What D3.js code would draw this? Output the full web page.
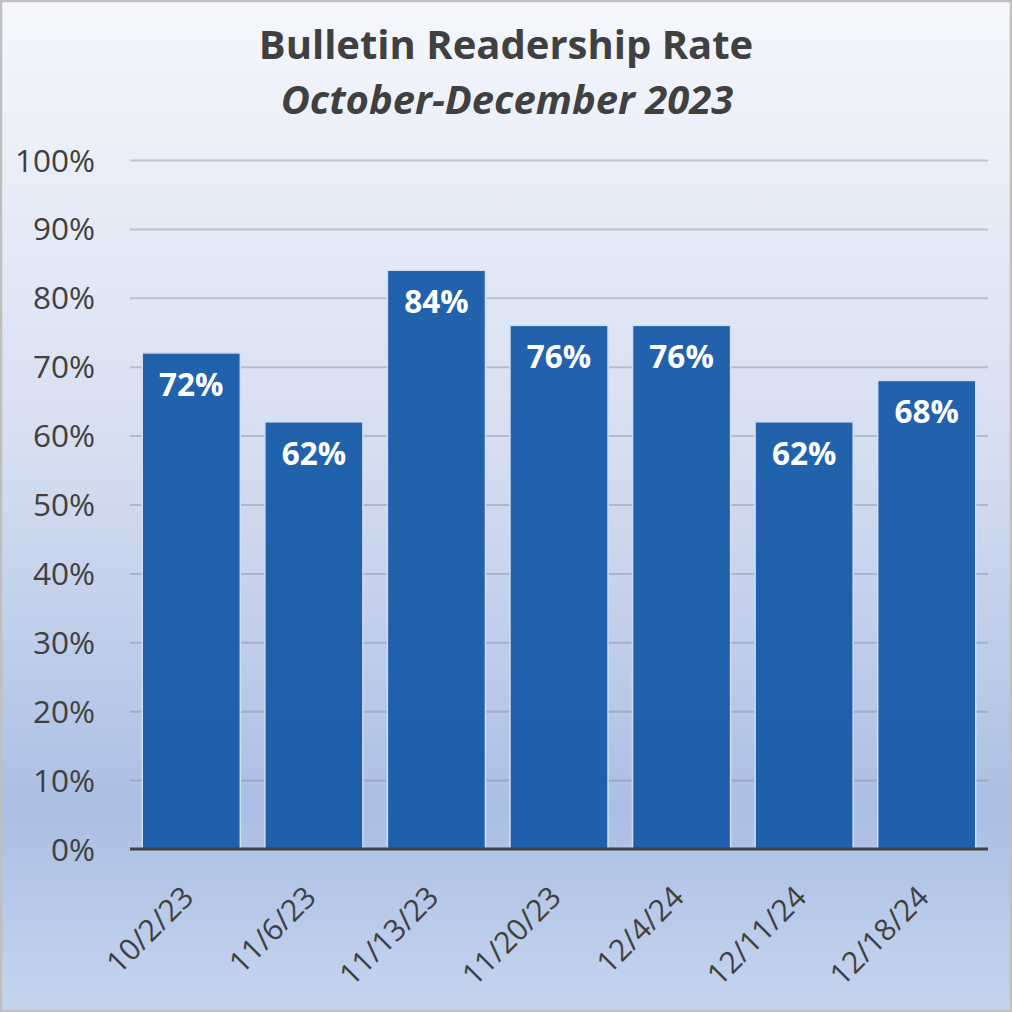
<!DOCTYPE html>
<html>
<head>
<meta charset="utf-8">
<script src="https://d3js.org/d3.v7.min.js"></script>
<style>
  body { margin: 0; background: #fff; }
  svg { display: block; font-family: "Open Sans", "Noto Sans", sans-serif; }
  .grid line { stroke: #7a8294; stroke-opacity: 0.38; stroke-width: 2px; }
  .grid path, .grid text { display: none; }
  .yaxis path, .yaxis line { display: none; }
  .yaxis text { font-family: "Open Sans", "Noto Sans", sans-serif; font-size: 31.5px; fill: #404040; }
  .xaxis text { font-family: "Open Sans", "Noto Sans", sans-serif; font-size: 30px; fill: #404040; }
</style>
</head>
<body>
<script>
  // data
  var dates = ["10/2/23", "11/6/23", "11/13/23", "11/20/23", "12/4/24", "12/11/24", "12/18/24"];
  var rates = [72, 62, 84, 76, 76, 62, 68];
  var yTicks = [0, 10, 20, 30, 40, 50, 60, 70, 80, 90, 100];

  var W = 1012, H = 1012;
  var margin = {top: 160, right: 24, bottom: 163, left: 130},
      width = W - margin.left - margin.right,
      height = H - margin.top - margin.bottom;

  var svg = d3.select("body").append("svg")
      .attr("width", W)
      .attr("height", H);

  var grad = svg.append("defs").append("linearGradient")
      .attr("id", "bg")
      .attr("x1", 0).attr("y1", 0).attr("x2", 0).attr("y2", 1);
  grad.append("stop").attr("offset", "0").attr("stop-color", "#f5f7fc");
  grad.append("stop").attr("offset", "0.45").attr("stop-color", "#d5def1");
  grad.append("stop").attr("offset", "0.8").attr("stop-color", "#abbfe4");
  grad.append("stop").attr("offset", "1").attr("stop-color", "#c6d4ee");

  svg.append("rect")
      .attr("x", 1).attr("y", 1)
      .attr("width", W - 2).attr("height", H - 2)
      .attr("fill", "url(#bg)")
      .attr("stroke", "#bfbfbf")
      .attr("stroke-width", 2.5);

  // titles
  svg.append("text")
      .attr("x", W / 2).attr("y", 59)
      .attr("text-anchor", "middle")
      .style("font-size", "40px").style("font-weight", "bold")
      .style("fill", "#404040")
      .text("Bulletin Readership Rate");

  svg.append("text")
      .attr("x", W / 2 + 1).attr("y", 114)
      .attr("text-anchor", "middle")
      .style("font-size", "40px").style("font-weight", "bold")
      .style("font-style", "italic")
      .style("fill", "#404040")
      .text("October-December 2023");

  var g = svg.append("g")
      .attr("transform", "translate(" + margin.left + "," + margin.top + ")");

  var x = d3.scaleBand()
      .domain(dates)
      .range([0, width])
      .paddingInner(0.2)
      .paddingOuter(0.1);

  var y = d3.scaleLinear()
      .domain([0, 100])
      .range([height, 0]);

  g.append("g")
      .attr("class", "grid")
      .call(d3.axisLeft(y).tickValues(yTicks.slice(1)).tickSize(-width));

  g.append("g")
      .attr("class", "yaxis")
      .call(d3.axisLeft(y).tickValues(yTicks).tickSize(0).tickPadding(35)
        .tickFormat(function(d) { return d + "%"; }));
  g.selectAll(".yaxis text").attr("dy", "0.35em");

  g.selectAll(".bar")
      .data(rates)
      .enter().append("rect")
      .attr("class", "bar")
      .attr("x", function(d, i) { return x(dates[i]); })
      .attr("y", function(d) { return y(d); })
      .attr("width", x.bandwidth())
      .attr("height", function(d) { return height - y(d); })
      .attr("fill", "#175ba9")
      .attr("fill-opacity", 0.95)
      .attr("stroke", "#d3def0")
      .attr("stroke-width", 1.5);

  g.selectAll(".val")
      .data(rates)
      .enter().append("text")
      .attr("class", "val")
      .attr("x", function(d, i) { return x(dates[i]) + x.bandwidth() / 2; })
      .attr("y", function(d) { return y(d) + 43; })
      .attr("text-anchor", "middle")
      .style("font-size", "31.5px").style("font-weight", "bold")
      .style("fill", "#ffffff")
      .text(function(d) { return d + "%"; });

  // baseline
  g.append("line")
      .attr("x1", 0).attr("x2", width)
      .attr("y1", height).attr("y2", height)
      .attr("stroke", "#404040")
      .attr("stroke-width", 3);

  g.append("g")
      .attr("class", "xaxis")
      .selectAll("text")
      .data(dates)
      .enter().append("text")
      .attr("text-anchor", "end")
      .attr("transform", function(d) {
        var cx = x(d) + x.bandwidth() / 2;
        return "translate(" + (cx + 4) + "," + (height + 50) + ") rotate(-45)";
      })
      .text(function(d) { return d; });
</script>
</body>
</html>
